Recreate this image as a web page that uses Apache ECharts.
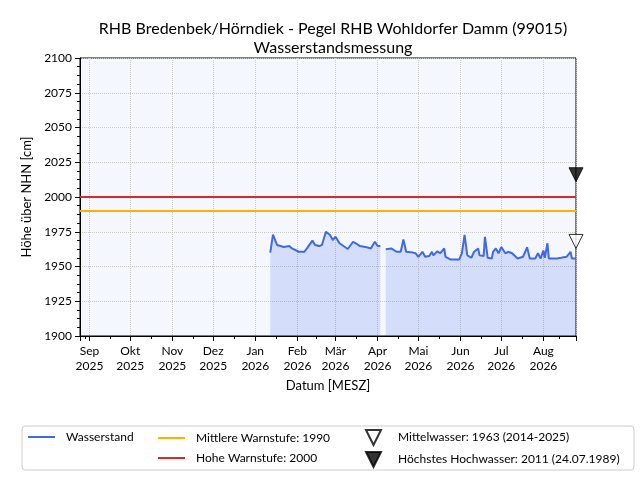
<!DOCTYPE html>
<html>
<head>
<meta charset="utf-8">
<script src="https://cdn.jsdelivr.net/npm/echarts@6/dist/echarts.min.js"></script>
<style>html,body{margin:0;padding:0;background:#fff}#c{width:640px;height:480px}</style>
</head>
<body>
<div id="c"></div>
<script>
const titleLines = ['RHB Bredenbek/Hörndiek - Pegel RHB Wohldorfer Damm (99015)', 'Wasserstandsmessung'];
const monthNames = ['Jan','Feb','Mär','Apr','Mai','Jun','Jul','Aug','Sep','Okt','Nov','Dez'];
const xMin = '2025-08-25';
const xMax = '2026-08-25';
const yTicks = [1900, 2100, 25];
const dates = ['2026-01-12','2026-01-14','2026-01-17','2026-01-22','2026-01-26','2026-01-28','2026-02-02','2026-02-06','2026-02-08','2026-02-12','2026-02-14','2026-02-17','2026-02-19','2026-02-22','2026-02-25','2026-02-27','2026-03-01','2026-03-04','2026-03-08','2026-03-10','2026-03-14','2026-03-16','2026-03-19','2026-03-24','2026-03-27','2026-03-30','2026-04-01','2026-04-03','2026-04-05',
'2026-04-07','2026-04-11','2026-04-15','2026-04-18','2026-04-20','2026-04-22','2026-04-27','2026-04-29','2026-05-01','2026-05-04','2026-05-06','2026-05-09','2026-05-11','2026-05-12','2026-05-15','2026-05-17','2026-05-20','2026-05-21','2026-05-25','2026-05-31','2026-06-02','2026-06-04','2026-06-06','2026-06-09','2026-06-11','2026-06-14','2026-06-15','2026-06-18','2026-06-19','2026-06-21','2026-06-24','2026-06-25','2026-06-27','2026-06-29','2026-07-01','2026-07-04','2026-07-06','2026-07-09','2026-07-13','2026-07-17','2026-07-20','2026-07-22','2026-07-26','2026-07-28','2026-07-30','2026-08-01','2026-08-02','2026-08-04','2026-08-05','2026-08-11','2026-08-14','2026-08-18','2026-08-21','2026-08-22','2026-08-25'];
const levels = [1960,1973,1965.5,1964,1964.7,1963,1960.6,1960.6,1963,1968.6,1965.5,1964.7,1965.5,1975,1972.7,1969,1971.4,1966.7,1964,1962.6,1967.8,1966.7,1964.7,1963.8,1963,1967.8,1964.7,1964.7,null,
1962.4,1963,1960.6,1960.6,1969.5,1960.6,1960,1959.5,1957,1960.6,1957,1957.5,1960.6,1958,1961,1959.5,1963,1957,1955,1955,1959.5,1972.7,1958,1956.3,1960.6,1963,1958,1957.5,1971.4,1956.3,1955.8,1960.6,1963,1959.5,1964,1959.5,1960.6,1959.5,1955.8,1957,1963.8,1955.8,1955.8,1959.5,1955.8,1961.5,1956.3,1966.7,1955.8,1955.8,1956.3,1957,1960.6,1955.8,1955.8];
const warnMid = 1990;
const warnHigh = 2000;
const meanWater = 1963;
const highestWater = 2011;
const names = ['Wasserstand','Mittlere Warnstufe: 1990','Hohe Warnstufe: 2000','Mittelwasser: 1963 (2014-2025)','Höchstes Hochwasser: 2011 (24.07.1989)'];

const FONT = 'Lato';
const tri = 'path://M0,0L10,0L5,10Z';
const lineIcon = 'rect';
const chart = echarts.init(document.getElementById('c'));
const legendText = { fontFamily: FONT, fontSize: 12, color: '#000' };
const option = {
  animation: false,
  backgroundColor: '#fff',
  textStyle: { fontFamily: FONT, color: '#000' },
  title: {
    text: titleLines.join('\n'), left: 328, textAlign: 'center', top: 14,
    textStyle: { fontFamily: FONT, fontSize: 16, fontWeight: 'normal', color: '#000', lineHeight: 19 }
  },
  graphic: [{ type: 'rect', z: 0, shape: { x: 22, y: 426, width: 612, height: 44, r: 3 }, style: { fill: '#fff', stroke: '#cccccc', lineWidth: 1 } }],
  legend: [
    { data: [names[0]], left: 28, top: 431, padding: 0, icon: lineIcon, itemWidth: 27, itemHeight: 2, textStyle: Object.assign({ padding: [0,0,0,6] }, legendText) },
    { data: [names[1], names[2]], orient: 'vertical', left: 158, top: 431, padding: 0, itemGap: 6, icon: lineIcon, itemWidth: 27, itemHeight: 2, textStyle: Object.assign({ padding: [0,0,0,6], lineHeight: 14 }, legendText) },
    { data: [names[3], names[4]], orient: 'vertical', left: 365, top: 429, padding: 0, itemGap: 5, itemWidth: 15, itemHeight: 15, icon: tri, textStyle: Object.assign({ padding: [0,0,0,12] }, legendText) }
  ],
  grid: { left: 80, right: 64, top: 58, bottom: 144, show: true, backgroundColor: '#f5f7ff', borderColor: '#000', borderWidth: 1 },
  xAxis: {
    type: 'time', min: xMin, max: xMax, splitNumber: 12,
    minInterval: 28 * 86400000, maxInterval: 31 * 86400000,
    name: 'Datum [MESZ]', nameLocation: 'middle', nameGap: 42,
    nameTextStyle: { fontFamily: FONT, fontSize: 13, color: '#000' },
    axisLine: { lineStyle: { color: '#000' } },
    axisTick: { show: true, length: 5, lineStyle: { color: '#000' } },
    minorTick: { show: true, splitNumber: 2, length: 3, lineStyle: { color: '#000' } },
    axisLabel: {
      fontFamily: FONT, fontSize: 12, color: '#000', lineHeight: 15, margin: 8, hideOverlap: false,
      formatter: function (v) { const d = new Date(v); return monthNames[d.getMonth()] + '\n' + d.getFullYear(); }
    },
    splitLine: { show: true, lineStyle: { type: 'dotted', color: '#c8c8c8' } }
  },
  yAxis: {
    type: 'value', min: yTicks[0], max: yTicks[1], interval: yTicks[2],
    name: 'Höhe über NHN [cm]', nameLocation: 'middle', nameGap: 42,
    nameTextStyle: { fontFamily: FONT, fontSize: 13, color: '#000' },
    axisLine: { show: true, lineStyle: { color: '#000' } },
    axisTick: { show: true, length: 5, lineStyle: { color: '#000' } },
    minorTick: { show: true, splitNumber: 4, length: 3, lineStyle: { color: '#000' } },
    axisLabel: { fontFamily: FONT, fontSize: 12, color: '#000', margin: 8, formatter: function (v) { return String(v); } },
    splitLine: { show: true, lineStyle: { type: 'dotted', color: '#c8c8c8' } }
  },
  series: [
    {
      name: names[0], type: 'line', showSymbol: false, symbol: 'none', connectNulls: false,
      data: dates.map((d, i) => [d, levels[i]]),
      lineStyle: { color: '#4169e1', width: 2 }, itemStyle: { color: '#4169e1' },
      areaStyle: { color: 'rgba(65,105,225,0.25)', origin: 'start' }, z: 3
    },
    {
      name: names[1], type: 'line', symbol: 'none', data: [[xMin, warnMid], [xMax, warnMid]],
      lineStyle: { color: '#ffb000', width: 2 }, itemStyle: { color: '#ffb000' }, z: 2
    },
    {
      name: names[2], type: 'line', symbol: 'none', data: [[xMin, warnHigh], [xMax, warnHigh]],
      lineStyle: { color: '#dc2828', width: 2 }, itemStyle: { color: '#dc2828' }, z: 2
    },
    {
      name: names[3], type: 'scatter', symbol: tri, symbolSize: [14, 14], symbolOffset: [0, -7], clip: false,
      data: [[xMax, meanWater]], itemStyle: { color: '#fff', borderColor: '#000', borderWidth: 1 }, z: 5
    },
    {
      name: names[4], type: 'scatter', symbol: tri, symbolSize: [14, 14], symbolOffset: [0, -7], clip: false,
      data: [[xMax, highestWater]], itemStyle: { color: '#000', borderColor: '#000', borderWidth: 1 }, z: 5
    }
  ]
};
chart.setOption(option);
</script>
</body>
</html>
